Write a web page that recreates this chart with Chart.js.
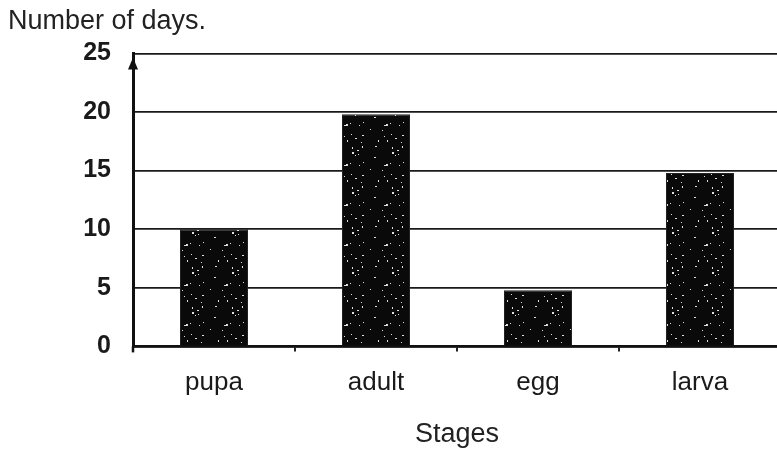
<!DOCTYPE html>
<html>
<head>
<meta charset="utf-8">
<script src="https://cdn.jsdelivr.net/npm/chart.js@4.4.1/dist/chart.umd.min.js"></script>
<style>
  html, body { margin: 0; padding: 0; background: #fff; overflow: hidden; }
  #wrap { width: 790px; height: 451px; }
</style>
</head>
<body>
<div id="wrap"><canvas id="grafico"></canvas></div>
<script>
// data
const stages = ['pupa', 'adult', 'egg', 'larva'];
const days = [10, 19.8, 4.8, 14.8];
const yTicks = [0, 5, 10, 15, 20, 25];

// speckled black fill, like the scanned bars
function speckle() {
    const c = document.createElement('canvas');
    c.width = 40; c.height = 40;
    const g = c.getContext('2d');
    g.fillStyle = '#0a0a0a';
    g.fillRect(0, 0, 40, 40);
    g.fillStyle = '#e0e0e0';
    let s = 7;
    for (let i = 0; i < 22; i++) {
        s = (s * 73 + 41) % 1601;
        const x = s % 40;
        s = (s * 73 + 41) % 1601;
        const y = s % 40;
        g.fillRect(x, y, i % 3 === 0 ? 2 : 1, i % 4 === 0 ? 2 : 1);
    }
    return g.createPattern(c, 'repeat');
}

// arrow head on top of the y axis
const arrowHead = {
    id: 'arrowHead',
    afterDraw(chart) {
        const y = chart.scales.y;
        const ctx = chart.ctx;
        const x = y.right;
        const top = y.top + 4;
        ctx.save();
        ctx.fillStyle = '#111';
        ctx.beginPath();
        ctx.moveTo(x, top);
        ctx.lineTo(x - 5, top + 12);
        ctx.lineTo(x + 5, top + 12);
        ctx.closePath();
        ctx.fill();
        ctx.lineWidth = 2.5;
        ctx.strokeStyle = '#111';
        ctx.beginPath();
        ctx.moveTo(x, y.bottom);
        ctx.lineTo(x, y.bottom + 6);
        ctx.stroke();
        ctx.restore();
    }
};

document.addEventListener('DOMContentLoaded', function () {
    const ctx = document.getElementById('grafico').getContext('2d');

    new Chart(ctx, {
        type: 'bar',
        data: {
            labels: stages,
            datasets: [{
                data: days,
                backgroundColor: speckle(),
                borderColor: '#222',
                borderWidth: 1,
                barPercentage: 0.42,
                categoryPercentage: 1
            }]
        },
        options: {
            responsive: true,
            maintainAspectRatio: false,
            animation: false,
            layout: { padding: { left: 8, right: 9, top: 2, bottom: 0 } },
            scales: {
                y: {
                    min: 0,
                    max: 25,
                    afterBuildTicks: function (axis) {
                        axis.ticks = yTicks.map(v => ({ value: v }));
                    },
                    afterFit: function (axis) {
                        axis.width = 125;
                    },
                    grid: {
                        color: '#1a1a1a',
                        lineWidth: 1.8,
                        drawTicks: false
                    },
                    border: { display: true, color: '#111', width: 3 },
                    ticks: {
                        color: '#1a1a1a',
                        padding: 22,
                        font: { family: 'Liberation Sans', size: 25, weight: 'bold' }
                    }
                },
                x: {
                    grid: {
                        drawOnChartArea: false,
                        color: '#222',
                        lineWidth: 2,
                        tickLength: 5
                    },
                    border: { display: true, color: '#111', width: 2.5 },
                    ticks: {
                        color: '#1a1a1a',
                        padding: 16,
                        font: { family: 'Liberation Sans', size: 26 }
                    },
                    title: {
                        display: true,
                        text: 'Stages',
                        color: '#222',
                        padding: { top: 4, bottom: 0 },
                        font: { family: 'Liberation Sans', size: 27 }
                    }
                }
            },
            plugins: {
                legend: { display: false },
                tooltip: { enabled: false },
                title: {
                    display: true,
                    text: 'Number of days.',
                    align: 'start',
                    color: '#222',
                    padding: { top: 3, bottom: 16 },
                    font: { family: 'Liberation Sans', size: 27, weight: 'normal' }
                }
            }
        },
        plugins: [arrowHead]
    });
});
</script>
</body>
</html>
